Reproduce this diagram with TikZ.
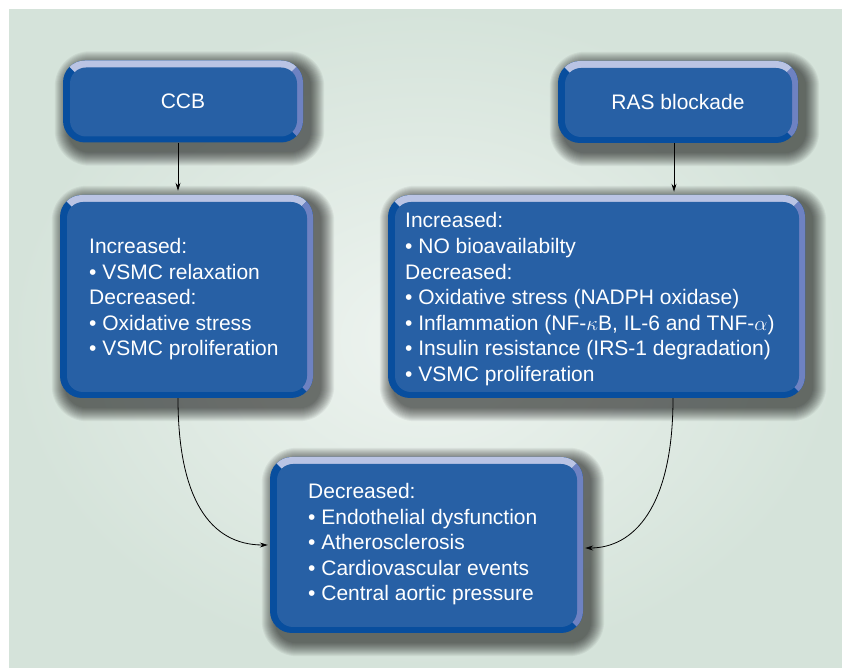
\documentclass[tikz,border=0pt]{standalone}
\usepackage{fontspec}
\setmainfont{Liberation Sans}
\usetikzlibrary{arrows.meta,calc,backgrounds}
\definecolor{bg}{RGB}{213,227,218}
\definecolor{bglight}{RGB}{238,244,240}
\definecolor{boxblue}{RGB}{39,96,165}
\definecolor{boxdark}{RGB}{8,78,158}
\definecolor{bevtop}{RGB}{186,196,228}
\definecolor{bevright}{RGB}{110,130,194}
\tikzset{
 bevelbox/.style={fill=boxdark, rounded corners=22pt, inner sep=0pt, text=white,
   font=\fontsize{21}{25.6}\selectfont,
   path picture={
     \fill[bevtop, sharp corners] (path picture bounding box.north west) -- (path picture bounding box.north east) -- ([shift={(-22pt,-22pt)}]path picture bounding box.north east) -- ([shift={(22pt,-22pt)}]path picture bounding box.north west) -- cycle;
     \fill[bevright, sharp corners] (path picture bounding box.north east) -- (path picture bounding box.south east) -- ([shift={(-22pt,22pt)}]path picture bounding box.south east) -- ([shift={(-22pt,-22pt)}]path picture bounding box.north east) -- cycle;
     \fill[boxblue, rounded corners=16pt] ([shift={(7pt,-7pt)}]path picture bounding box.north west) rectangle ([shift={(-6pt,6pt)}]path picture bounding box.south east);
   }},
 boxtext/.style={anchor=north west, inner sep=0pt, text=white, align=left,
   font=\fontsize{21}{25.6}\selectfont},
 arr/.style={line width=0.8pt, -{Stealth[length=8pt,width=5pt]}},
 shadowlayer/.style={fill=black, opacity=0.05},
}
\begin{document}
\begin{tikzpicture}[x=1pt,y=1pt]
\useasboundingbox (0,0) rectangle (842,668);

\node[bevelbox, minimum width=240pt, minimum height=82pt] (ccb) at (183,566.5) {CCB};
\node[bevelbox, minimum width=240pt, minimum height=82pt] (ras) at (678,566) {RAS blockade};
\node[bevelbox, minimum width=253pt, minimum height=203pt] (lbox) at (186.5,371.5) {};
\node[bevelbox, minimum width=417pt, minimum height=203pt] (rbox) at (596.5,371.5) {};
\node[bevelbox, minimum width=313pt, minimum height=176pt] (bot) at (426.5,123) {};

\begin{pgfonlayer}{background}
\fill[white] (0,0) rectangle (842,668);
\shade[inner color=bglight, outer color=bg] (9,0) rectangle (842,658);
\foreach \n in {ccb,ras,lbox,rbox,bot}{
  \foreach \i in {0,...,13}{
    \fill[shadowlayer, rounded corners=22pt+\i pt]
      ([shift={(5pt-\i pt,-4pt+\i pt)}]\n.north west) rectangle
      ([shift={(8pt+\i pt,-10pt-\i pt)}]\n.south east);
  }
}
\end{pgfonlayer}

\node[boxtext] (ltext) at (89,430) {Increased:\\• VSMC relaxation\\Decreased:\\• Oxidative stress\\• VSMC proliferation};
\node[boxtext] (rtext) at (405,455.6) {Increased:\\• NO bioavailabilty\\Decreased:\\• Oxidative stress (NADPH oxidase)\\• Inflammation (NF-$\kappa$B, IL-6 and TNF-$\alpha$)\\• Insulin resistance (IRS-1 degradation)\\• VSMC proliferation};
\node[boxtext] (btext) at (308,185) {Decreased:\\• Endothelial dysfunction\\• Atherosclerosis\\• Cardiovascular events\\• Central aortic pressure};

\draw[arr, shorten >=4pt] ([xshift=-5pt]ccb.south) -- ([xshift=-5pt]ccb.south |- lbox.north);
\draw[arr, shorten >=3pt] ([xshift=-4pt]ras.south) -- ([xshift=-4pt]ras.south |- rbox.north);
\draw[arr, shorten >=2pt] ([xshift=-8.5pt]lbox.south) .. controls +(0,-100pt) and +(-60pt,0) .. (bot.west);
\draw[arr, shorten >=2pt] ([xshift=76.5pt]rbox.south) .. controls +(0,-110pt) and +(50pt,0) .. ([yshift=-3pt]bot.east);
\end{tikzpicture}
\end{document}
